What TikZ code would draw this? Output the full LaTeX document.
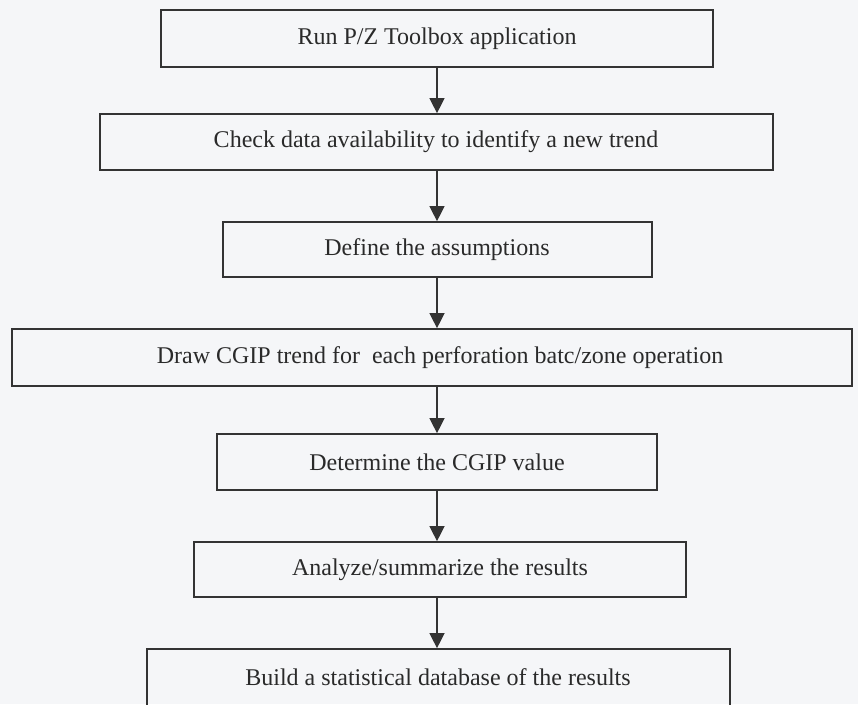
\documentclass[tikz,border=0pt]{standalone}
\usepackage{fontspec}
\setmainfont{Liberation Serif}
\usetikzlibrary{arrows.meta}
\definecolor{paper}{HTML}{F5F6F8}
\definecolor{ink}{HTML}{333333}
\definecolor{txtc}{HTML}{2A2A2A}
\begin{document}
\begin{tikzpicture}[x=1pt,y=-1pt,
  stepbox/.style={draw=ink,line width=1.7pt,inner sep=0pt},
  steptext/.style={text=txtc,font=\fontsize{24}{28}\selectfont,inner sep=0pt,anchor=center},
  flow/.style={draw=ink,line width=1.3pt,-{Triangle[length=15pt,width=15pt]}}]
\fill[paper] (0,0) rectangle (858,704);
\useasboundingbox (0,0) rectangle (858,704);
\clip (0,0) rectangle (858,704);
% boxes
\node[stepbox,minimum width=552pt,minimum height=57pt] (b1) at (437,38.5) {};
\node[stepbox,minimum width=673pt,minimum height=56pt] (b2) at (436.5,142) {};
\node[stepbox,minimum width=429pt,minimum height=55pt] (b3) at (437.5,249.5) {};
\node[stepbox,minimum width=840pt,minimum height=57pt] (b4) at (432,357.5) {};
\node[stepbox,minimum width=440pt,minimum height=56pt] (b5) at (437,462) {};
\node[stepbox,minimum width=492pt,minimum height=55pt] (b6) at (440,569.5) {};
\node[stepbox,minimum width=583pt,minimum height=57pt] (b7) at (438.5,677.5) {};
% texts
\node[steptext] (t1) at (437,38.5) {Run P/Z Toolbox application};
\node[steptext] (t2) at (436,142) {Check data availability to identify a new trend};
\node[steptext] (t3) at (437,249.5) {Define the assumptions};
\node[steptext] (t4) at (440,357.5) {Draw CGIP trend for\ \ each perforation batc/zone operation};
\node[steptext] (t5) at (437,462) {Determine the CGIP value};
\node[steptext] (t6) at (440,569.5) {Analyze/summarize the results};
\node[steptext] (t7) at (438,677.5) {Build a statistical database of the results};
% arrows
\draw[flow] (b1.south -| 437,0) -- (b2.north -| 437,0);
\draw[flow] (b2.south -| 437,0) -- (b3.north -| 437,0);
\draw[flow] (b3.south -| 437,0) -- (b4.north -| 437,0);
\draw[flow] (b4.south -| 437,0) -- (b5.north -| 437,0);
\draw[flow] (b5.south -| 437,0) -- (b6.north -| 437,0);
\draw[flow] (b6.south -| 437,0) -- (b7.north -| 437,0);
\end{tikzpicture}
\end{document}
